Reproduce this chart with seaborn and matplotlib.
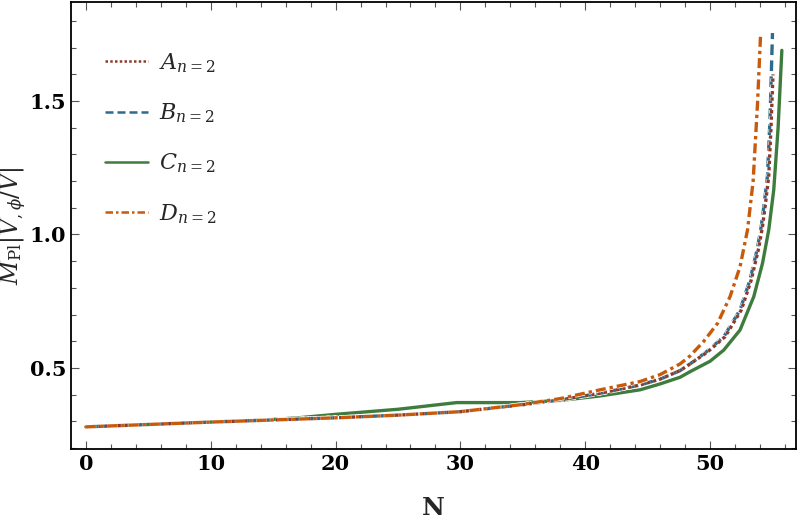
import numpy as np
import pandas as pd
import matplotlib
matplotlib.use("Agg")
import matplotlib.pyplot as plt
import matplotlib.patheffects as pe
import seaborn as sns

# values
N_A = [0, 5, 10, 15, 20, 25, 30, 34.8, 38, 41.2, 44.4, 46, 47.6, 48.4, 49.8, 51.2, 52.5, 53.3, 53.9, 54.2, 54.45, 54.7, 54.88, 55.04]
V_A = [0.279, 0.288, 0.297, 0.305, 0.313, 0.323, 0.336, 0.361, 0.38, 0.405, 0.436, 0.458, 0.49, 0.515, 0.56, 0.617, 0.717, 0.83, 0.95, 1.03, 1.12, 1.22, 1.40, 1.60]

N_B = [0, 5, 10, 15, 20, 25, 30, 34.8, 38, 41.2, 44.4, 46, 47.6, 48.4, 49.7, 51.1, 52.4, 53.2, 53.8, 54.1, 54.35, 54.6, 54.8, 55.0]
V_B = [0.279, 0.288, 0.297, 0.305, 0.313, 0.323, 0.336, 0.361, 0.38, 0.405, 0.436, 0.458, 0.49, 0.515, 0.56, 0.617, 0.717, 0.83, 0.95, 1.03, 1.12, 1.22, 1.43, 1.755]

N_C = [0, 5, 10, 15, 17, 20, 25, 29.7, 34.8, 38, 41.2, 44.4, 46, 47.6, 48.4, 50, 51.1, 52.4, 53.5, 54.2, 54.7, 55.1, 55.45, 55.75]
V_C = [0.279, 0.288, 0.297, 0.307, 0.313, 0.326, 0.345, 0.370, 0.370, 0.378, 0.395, 0.418, 0.44, 0.465, 0.486, 0.525, 0.567, 0.642, 0.767, 0.892, 1.017, 1.167, 1.40, 1.69]

N_D = [0, 5, 10, 15, 20, 25, 30, 34.8, 38, 41.2, 44.4, 46, 47.6, 48.4, 49.5, 50.6, 51.6, 52.4, 53.0, 53.45, 53.8, 54.05]
V_D = [0.279, 0.288, 0.297, 0.305, 0.313, 0.323, 0.336, 0.362, 0.385, 0.418, 0.449, 0.475, 0.515, 0.545, 0.60, 0.667, 0.767, 0.879, 1.017, 1.20, 1.49, 1.753]

labels = [r"$A_{n=2}$", r"$B_{n=2}$", r"$C_{n=2}$", r"$D_{n=2}$"]
colors = ["#8c3a2a", "#2f6b8c", "#3e7c3e", "#c75a0b"]
styles = [(0, (1.0, 0.9)), (0, (3.2, 1.6)), "-", (0, (3.0, 1.2, 1.0, 1.2))]

sns.set_style("ticks")
plt.rcParams["font.family"] = ["DejaVu Serif"]
plt.rcParams["mathtext.fontset"] = "dejavuserif"

fig = plt.figure(figsize=(7.97, 5.2), dpi=100)
ax = fig.add_axes([0.089, 0.137, 0.91, 0.859])

series = [(N_A, V_A), (N_B, V_B), (N_C, V_C), (N_D, V_D)]
for i in [2, 1, 0, 3]:
    n, v = series[i]
    df = pd.DataFrame({"N": n, "v": v})
    sns.lineplot(data=df, x="N", y="v", ax=ax, color=colors[i], lw=2.4,
                 linestyle=styles[i], label=labels[i],
                 path_effects=[pe.Stroke(linewidth=3.4, foreground="white"), pe.Normal()])

h, l = ax.get_legend_handles_labels()
order = [l.index(lab) for lab in labels]
leg = ax.legend([h[k] for k in order], [l[k] for k in order], loc="upper left",
                bbox_to_anchor=(0.02, 0.935), frameon=False, fontsize=16,
                handlelength=1.9, labelspacing=1.2, handletextpad=0.5)
for line in leg.get_lines():
    line.set_path_effects([])
    line.set_linewidth(1.8)

ax.set_xlim(-1.2, 56.9)
ax.set_ylim(0.197, 1.871)
ax.set_xticks([0, 10, 20, 30, 40, 50])
ax.set_yticks([0.5, 1.0, 1.5])
ax.set_xticks(np.arange(0, 57, 2), minor=True)
ax.set_yticks(np.arange(0.2, 1.9, 0.1), minor=True)
ax.tick_params(which="both", direction="in", top=True, right=True, colors="#555555",
               labelcolor="black", labelsize=15)
ax.tick_params(which="major", length=6, width=0.8)
ax.tick_params(which="minor", length=3.5, width=0.8)
for lab in ax.get_xticklabels() + ax.get_yticklabels():
    lab.set_fontweight("bold")
for s in ax.spines.values():
    s.set_visible(True)
    s.set_linewidth(1.3)
    s.set_color("black")

ax.set_xlabel("N", fontsize=18, fontweight="bold", labelpad=16)
ax.set_ylabel(r"$M_{\rm Pl}|V_{,\phi}/V|$", fontsize=17)
ax.yaxis.set_label_coords(-0.058, 0.5)

fig.savefig("out.png", dpi=100)
